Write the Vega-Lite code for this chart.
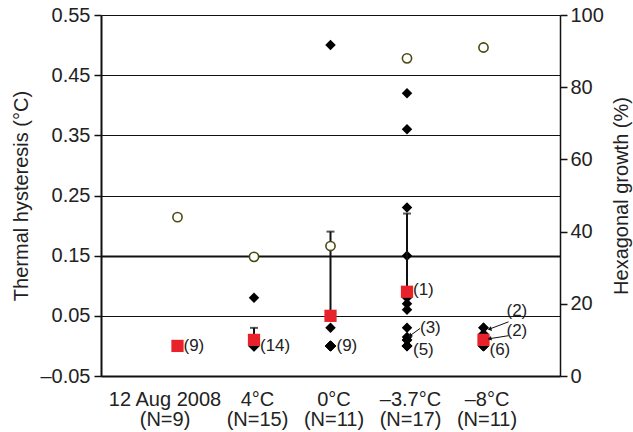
{
  "$schema": "https://vega.github.io/schema/vega-lite/v6.json",
  "width": 459,
  "height": 361,
  "autosize": {"type": "none"},
  "padding": {"left": 101, "top": 15, "right": 73, "bottom": 56},
  "background": "white",
  "config": {
    "view": {"stroke": null},
    "font": "Liberation Sans",
    "axis": {"labelFont": "Liberation Sans", "titleFont": "Liberation Sans", "labelFontSize": 20, "titleFontSize": 20, "titleFontWeight": "normal", "labelColor": "#222", "titleColor": "#222"}
  },
  "datasets": {
    "points": [
      {"cat": "12 Aug 2008|(N=9)", "th": 0}, {"cat": "12 Aug 2008|(N=9)", "th": 0}, {"cat": "12 Aug 2008|(N=9)", "th": 0},
      {"cat": "12 Aug 2008|(N=9)", "th": 0}, {"cat": "12 Aug 2008|(N=9)", "th": 0}, {"cat": "12 Aug 2008|(N=9)", "th": 0},
      {"cat": "12 Aug 2008|(N=9)", "th": 0}, {"cat": "12 Aug 2008|(N=9)", "th": 0}, {"cat": "12 Aug 2008|(N=9)", "th": 0},
      {"cat": "4°C|(N=15)", "th": 0.08},
      {"cat": "4°C|(N=15)", "th": 0}, {"cat": "4°C|(N=15)", "th": 0}, {"cat": "4°C|(N=15)", "th": 0}, {"cat": "4°C|(N=15)", "th": 0},
      {"cat": "4°C|(N=15)", "th": 0}, {"cat": "4°C|(N=15)", "th": 0}, {"cat": "4°C|(N=15)", "th": 0}, {"cat": "4°C|(N=15)", "th": 0},
      {"cat": "4°C|(N=15)", "th": 0}, {"cat": "4°C|(N=15)", "th": 0}, {"cat": "4°C|(N=15)", "th": 0}, {"cat": "4°C|(N=15)", "th": 0},
      {"cat": "4°C|(N=15)", "th": 0}, {"cat": "4°C|(N=15)", "th": 0},
      {"cat": "0°C|(N=11)", "th": 0.5}, {"cat": "0°C|(N=11)", "th": 0.03},
      {"cat": "0°C|(N=11)", "th": 0}, {"cat": "0°C|(N=11)", "th": 0}, {"cat": "0°C|(N=11)", "th": 0}, {"cat": "0°C|(N=11)", "th": 0},
      {"cat": "0°C|(N=11)", "th": 0}, {"cat": "0°C|(N=11)", "th": 0}, {"cat": "0°C|(N=11)", "th": 0}, {"cat": "0°C|(N=11)", "th": 0},
      {"cat": "0°C|(N=11)", "th": 0},
      {"cat": "–3.7°C|(N=17)", "th": 0.42}, {"cat": "–3.7°C|(N=17)", "th": 0.36}, {"cat": "–3.7°C|(N=17)", "th": 0.23},
      {"cat": "–3.7°C|(N=17)", "th": 0.15}, {"cat": "–3.7°C|(N=17)", "th": 0.09}, {"cat": "–3.7°C|(N=17)", "th": 0.08},
      {"cat": "–3.7°C|(N=17)", "th": 0.07}, {"cat": "–3.7°C|(N=17)", "th": 0.06}, {"cat": "–3.7°C|(N=17)", "th": 0.03},
      {"cat": "–3.7°C|(N=17)", "th": 0.015}, {"cat": "–3.7°C|(N=17)", "th": 0.01}, {"cat": "–3.7°C|(N=17)", "th": 0.01},
      {"cat": "–3.7°C|(N=17)", "th": 0}, {"cat": "–3.7°C|(N=17)", "th": 0}, {"cat": "–3.7°C|(N=17)", "th": 0},
      {"cat": "–3.7°C|(N=17)", "th": 0}, {"cat": "–3.7°C|(N=17)", "th": 0},
      {"cat": "–8°C|(N=11)", "th": 0.03}, {"cat": "–8°C|(N=11)", "th": 0.03},
      {"cat": "–8°C|(N=11)", "th": 0.02}, {"cat": "–8°C|(N=11)", "th": 0.02}, {"cat": "–8°C|(N=11)", "th": 0.01},
      {"cat": "–8°C|(N=11)", "th": 0}, {"cat": "–8°C|(N=11)", "th": 0}, {"cat": "–8°C|(N=11)", "th": 0},
      {"cat": "–8°C|(N=11)", "th": 0}, {"cat": "–8°C|(N=11)", "th": 0}, {"cat": "–8°C|(N=11)", "th": 0}
    ],
    "means": [
      {"cat": "12 Aug 2008|(N=9)", "mean": 0, "upper": null},
      {"cat": "4°C|(N=15)", "mean": 0.01, "upper": 0.03},
      {"cat": "0°C|(N=11)", "mean": 0.05, "upper": 0.19},
      {"cat": "–3.7°C|(N=17)", "mean": 0.09, "upper": 0.22},
      {"cat": "–8°C|(N=11)", "mean": 0.01, "upper": null}
    ],
    "hex": [
      {"cat": "12 Aug 2008|(N=9)", "hex": 44},
      {"cat": "4°C|(N=15)", "hex": 33},
      {"cat": "0°C|(N=11)", "hex": 36},
      {"cat": "–3.7°C|(N=17)", "hex": 88},
      {"cat": "–8°C|(N=11)", "hex": 91}
    ],
    "labels": [
      {"cat": "12 Aug 2008|(N=9)", "y": 0, "text": "(9)", "kind": "plain"},
      {"cat": "4°C|(N=15)", "y": 0, "text": "(14)", "kind": "plain"},
      {"cat": "0°C|(N=11)", "y": 0, "text": "(9)", "kind": "plain"},
      {"cat": "–3.7°C|(N=17)", "y": 0.093, "text": "(1)", "kind": "plain"},
      {"cat": "–3.7°C|(N=17)", "y": -0.006, "text": "(5)", "kind": "plain"},
      {"cat": "–8°C|(N=11)", "y": -0.006, "text": "(6)", "kind": "plain"},
      {"cat": "–3.7°C|(N=17)", "y": 0.029, "text": "(3)", "kind": "near"},
      {"cat": "–8°C|(N=11)", "y": 0.058, "text": "(2)", "kind": "far"},
      {"cat": "–8°C|(N=11)", "y": 0.025, "text": "(2)", "kind": "far"}
    ],
    "arrows": [
      {"cat": "–3.7°C|(N=17)", "tip": 0.017, "tail": 0.029, "kind": "near"},
      {"cat": "–8°C|(N=11)", "tip": 0.028, "tail": 0.04, "kind": "far"},
      {"cat": "–8°C|(N=11)", "tip": 0.012, "tail": 0.017, "kind": "far"}
    ]
  },
  "encoding": {
    "x": {
      "field": "cat", "type": "nominal",
      "scale": {"type": "point", "padding": 1, "domain": ["12 Aug 2008|(N=9)", "4°C|(N=15)", "0°C|(N=11)", "–3.7°C|(N=17)", "–8°C|(N=11)"]},
      "axis": {"title": null, "labelExpr": "split(datum.label, '|')", "labelAngle": 0, "ticks": false, "labelPadding": 13, "labelLineHeight": 20, "domainColor": "#111", "domainWidth": 2, "labelBaseline": "top", "labelFontSize": 20,
        "labelOffset": {"condition": {"test": "datum.value == '12 Aug 2008|(N=9)'", "value": -13}, "value": 3}}
    }
  },
  "layer": [
    {
      "layer": [
        {
          "data": {"name": "points"},
          "mark": {"type": "point", "shape": "diamond", "filled": true, "color": "#000", "size": 110, "opacity": 1},
          "encoding": {
            "y": {"field": "th", "type": "quantitative",
              "scale": {"domain": [-0.05, 0.55], "nice": false, "zero": false},
              "axis": {"title": "Thermal hysteresis (°C)", "values": [-0.05, 0.05, 0.15, 0.25, 0.35, 0.45, 0.55], "format": ".2f", "labelExpr": "replace(datum.label, '−', '–')", "grid": true, "gridColor": "#111",
                "gridWidth": {"condition": {"test": "abs(datum.value - 0.15) < 0.001", "value": 2}, "value": 1},
                "domainColor": "#111", "domainWidth": 2, "tickColor": "#111", "tickSize": 7, "tickWidth": 1.5, "labelPadding": 4, "titlePadding": 8, "labelFontSize": 20, "titleFontSize": 20}
            }
          }
        },
        {
          "data": {"name": "means"},
          "transform": [{"filter": "datum.upper != null"}],
          "mark": {"type": "rule", "color": "#111", "strokeWidth": 2},
          "encoding": {"y": {"field": "mean", "type": "quantitative"}, "y2": {"field": "upper"}}
        },
        {
          "data": {"name": "means"},
          "transform": [{"filter": "datum.upper != null"}],
          "mark": {"type": "tick", "orient": "horizontal", "color": "#111", "size": 8, "thickness": 2},
          "encoding": {"y": {"field": "upper", "type": "quantitative"}}
        },
        {
          "data": {"name": "means"},
          "mark": {"type": "point", "shape": "square", "filled": true, "color": "#e8222b", "size": 150, "opacity": 1},
          "encoding": {"y": {"field": "mean", "type": "quantitative"}}
        },
        {
          "data": {"name": "labels"},
          "transform": [{"filter": "datum.kind == 'plain'"}],
          "mark": {"type": "text", "align": "left", "baseline": "middle", "dx": 6, "fontSize": 17, "color": "#222", "font": "Liberation Sans"},
          "encoding": {"y": {"field": "y", "type": "quantitative"}, "text": {"field": "text"}}
        },
        {
          "data": {"name": "labels"},
          "transform": [{"filter": "datum.kind == 'near'"}],
          "mark": {"type": "text", "align": "left", "baseline": "middle", "dx": 13, "fontSize": 17, "color": "#222", "font": "Liberation Sans"},
          "encoding": {"y": {"field": "y", "type": "quantitative"}, "text": {"field": "text"}}
        },
        {
          "data": {"name": "labels"},
          "transform": [{"filter": "datum.kind == 'far'"}],
          "mark": {"type": "text", "align": "left", "baseline": "middle", "dx": 23, "fontSize": 17, "color": "#222", "font": "Liberation Sans"},
          "encoding": {"y": {"field": "y", "type": "quantitative"}, "text": {"field": "text"}}
        },
        {
          "data": {"name": "arrows"},
          "transform": [{"filter": "datum.kind == 'near'"}],
          "mark": {"type": "rule", "color": "#111", "strokeWidth": 1, "xOffset": 3, "x2Offset": 13},
          "encoding": {"y": {"field": "tip", "type": "quantitative"}, "y2": {"field": "tail"}, "x2": {"field": "cat"}}
        },
        {
          "data": {"name": "arrows"},
          "transform": [{"filter": "datum.kind == 'far'"}],
          "mark": {"type": "rule", "color": "#111", "strokeWidth": 1, "xOffset": 6, "x2Offset": 25},
          "encoding": {"y": {"field": "tip", "type": "quantitative"}, "y2": {"field": "tail"}, "x2": {"field": "cat"}}
        },
        {
          "data": {"name": "arrows"},
          "transform": [{"filter": "datum.kind == 'near'"}],
          "mark": {"type": "point", "shape": "triangle-left", "filled": true, "color": "#111", "size": 22, "opacity": 1, "xOffset": 3, "angle": -39},
          "encoding": {"y": {"field": "tip", "type": "quantitative"}}
        },
        {
          "data": {"name": "arrows"},
          "transform": [{"filter": "datum.kind == 'far'"}],
          "mark": {"type": "point", "shape": "triangle-left", "filled": true, "color": "#111", "size": 22, "opacity": 1, "xOffset": 6, "angle": -13},
          "encoding": {"y": {"field": "tip", "type": "quantitative"}}
        }
      ]
    },
    {
      "data": {"name": "hex"},
      "mark": {"type": "point", "shape": "circle", "filled": false, "fill": "white", "stroke": "#4b4a12", "strokeWidth": 1.6, "size": 85, "opacity": 1},
      "encoding": {
        "y": {"field": "hex", "type": "quantitative",
          "scale": {"domain": [0, 100], "nice": false},
          "axis": {"title": "Hexagonal growth (%)", "orient": "right", "titleAngle": 270, "titleBaseline": "top", "values": [0, 20, 40, 60, 80, 100], "grid": false, "domainColor": "#111", "domainWidth": 1.5, "tickColor": "#111", "tickSize": 7, "tickWidth": 1.5, "labelPadding": 3, "titlePadding": 8, "labelFontSize": 20, "titleFontSize": 20}
        }
      }
    }
  ],
  "resolve": {"scale": {"y": "independent"}}
}
